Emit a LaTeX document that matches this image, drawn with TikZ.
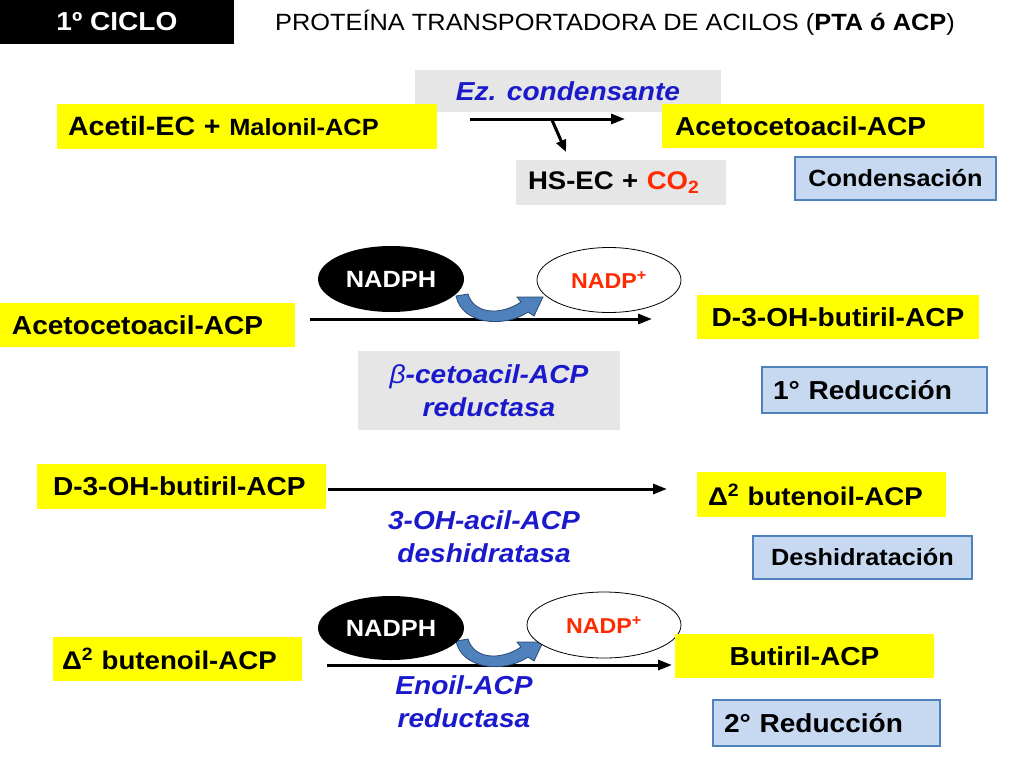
\documentclass[tikz,border=0pt]{standalone}
\usepackage{fontspec}
\setmainfont{Liberation Sans}[FakeStretch=1.08]
\usetikzlibrary{arrows.meta,shapes.geometric}
\definecolor{ylw}{HTML}{FFFF00}
\definecolor{gbox}{HTML}{E6E6E6}
\definecolor{bfill}{HTML}{C6D9F1}
\definecolor{bline}{HTML}{4F81BD}
\definecolor{etxt}{HTML}{1A1ACC}
\definecolor{rtxt}{HTML}{FF2A00}
\definecolor{carrow}{HTML}{4F81BD}
\definecolor{carrowl}{HTML}{2C4A75}
\begin{document}
\begin{tikzpicture}[x=1pt,y=-1pt,
  ybox/.style={fill=ylw, inner ysep=0pt, inner xsep=11pt, font=\bfseries\fontsize{26}{30}\selectfont},
  gbx/.style={fill=gbox, inner ysep=0pt, inner xsep=11pt},
  bbox/.style={fill=bfill, draw=bline, line width=1.2pt, inner ysep=0pt, inner xsep=11pt, font=\bfseries\fontsize{26}{30}\selectfont},
  enz/.style={text=etxt, font=\bfseries\itshape\fontsize{26}{33}\selectfont, align=center},
  rxn/.style={line width=3pt, -{Triangle[length=14pt,width=10pt]}},
  blk/.style={ellipse, fill=black, text=white, inner sep=0pt, font=\bfseries\fontsize{23.5}{26}\selectfont},
  wht/.style={ellipse, fill=white, draw=black, line width=0.8pt, text=rtxt, inner sep=0pt, font=\bfseries\fontsize{21.5}{24}\selectfont},
  curv/.pic={\filldraw[fill=carrow, draw=carrowl, line width=0.8pt]
     (0,0) .. controls (6,29) and (49,32) .. (72,16) -- (78,20) -- (87,1) -- (61,1) -- (65,6)
     .. controls (44,20) and (18,18) .. (12,-2) -- cycle;}
]
\useasboundingbox (0,0) rectangle (1024,768);
\fill[white] (0,0) rectangle (1024,768);

% header
\node[fill=black, text=white, minimum width=234, minimum height=44, inner sep=0pt,
      font=\bfseries\fontsize{26}{30}\selectfont] (cyc) at (117,22) {1º CICLO};
\node[font=\fontsize{23.5}{28}\selectfont] (title) at (615,23)
  {PROTEÍNA TRANSPORTADORA DE ACILOS (\textbf{PTA ó ACP})};

% condensation
\node[gbx, minimum width=306, minimum height=42, enz] (ez) at (568,91) {Ez. condensante};
\node[ybox, text width=358, minimum height=45, align=left] (acetil) at (247,126.5)
  {\fontsize{26.5}{30}\selectfont Acetil-EC + {\fontsize{23.5}{28}\selectfont Malonil-ACP}};
\node[ybox, text width=296, minimum height=44, align=left, inner xsep=13pt] (aceto1) at (823,126)
  {Acetocetoacil-ACP};
\node[gbx, text width=186, minimum height=45, align=left, inner xsep=12pt,
      font=\bfseries\fontsize{25.5}{30}\selectfont] (hsec) at (621,182.5)
  {HS-EC + \textcolor{rtxt}{CO\textsubscript{2}}};
\node[bbox, text width=179, minimum height=43, align=center,
      font=\bfseries\fontsize{23.4}{27}\selectfont] (cond) at (895.5,178.5) {Condensación};
\coordinate (a1s) at (470,119);
\coordinate (a1e) at (625,119);
\coordinate (b1s) at (552,120);
\coordinate (b1e) at (566,152);
\draw[rxn] (a1s) -- (a1e);
\draw[line width=3pt, -{Triangle[length=12pt,width=10pt]}] (b1s) -- (b1e);

% first reduction
\node[ybox, text width=271, minimum height=44, align=left, inner xsep=12pt] (aceto2) at (147.5,325)
  {Acetocetoacil-ACP};
\coordinate (a2s) at (310,319);
\coordinate (a2e) at (652,319);
\draw[rxn] (a2s) -- (a2e);
\pic at (456,296) {curv};
\node[blk, minimum width=146, minimum height=66] (nadph1) at (391,279) {NADPH};
\node[wht, minimum width=144, minimum height=65] (nadp1) at (609,280) {NADP\textsuperscript{+}};
\node[ybox, text width=274, minimum height=44, align=center, inner xsep=4pt] (dbut1) at (838,317)
  {D-3-OH-butiril-ACP};
\node[gbx, minimum width=262, minimum height=79, enz] (beta) at (489,390.5)
  {{\mdseries β}-cetoacil-ACP\\reductasa};
\node[bbox, text width=203, minimum height=46, align=left] (red1) at (874.5,390) {1° Reducción};

% dehydration
\node[ybox, text width=257, minimum height=45, align=left, inner xsep=16pt] (dbut2) at (181.5,486.5)
  {D-3-OH-butiril-ACP};
\coordinate (a3s) at (328,489);
\coordinate (a3e) at (667,489);
\draw[rxn] (a3s) -- (a3e);
\node[enz] (deh) at (484,536.5) {3-OH-acil-ACP\\deshidratasa};
\node[ybox, text width=227, minimum height=45, align=left, font=\bfseries\fontsize{25.6}{30}\selectfont]
  (but1) at (821.5,494.5) {Δ\textsuperscript{2} butenoil-ACP};
\node[bbox, text width=197, minimum height=43, align=center, font=\bfseries\fontsize{23.4}{27}\selectfont]
  (desh) at (862.5,557.5) {Deshidratación};

% second reduction
\node[ybox, text width=231, minimum height=44, align=left, inner xsep=9pt, font=\bfseries\fontsize{25.6}{30}\selectfont]
  (but2) at (177.5,659) {Δ\textsuperscript{2} butenoil-ACP};
\coordinate (a4s) at (327,665);
\coordinate (a4e) at (672,665);
\draw[rxn] (a4s) -- (a4e);
\pic at (456,641) {curv};
\node[blk, minimum width=146, minimum height=64] (nadph2) at (391,628) {NADPH};
\node[wht, minimum width=154, minimum height=66] (nadp2) at (604,625) {NADP\textsuperscript{+}};
\node[ybox, text width=237, minimum height=44, align=center] (butir) at (804.5,656) {Butiril-ACP};
\node[enz] (enoil) at (464,702) {Enoil-ACP\\reductasa};
\node[bbox, text width=205, minimum height=46, align=left] (red2) at (826.5,723) {2° Reducción};
\end{tikzpicture}
\end{document}
